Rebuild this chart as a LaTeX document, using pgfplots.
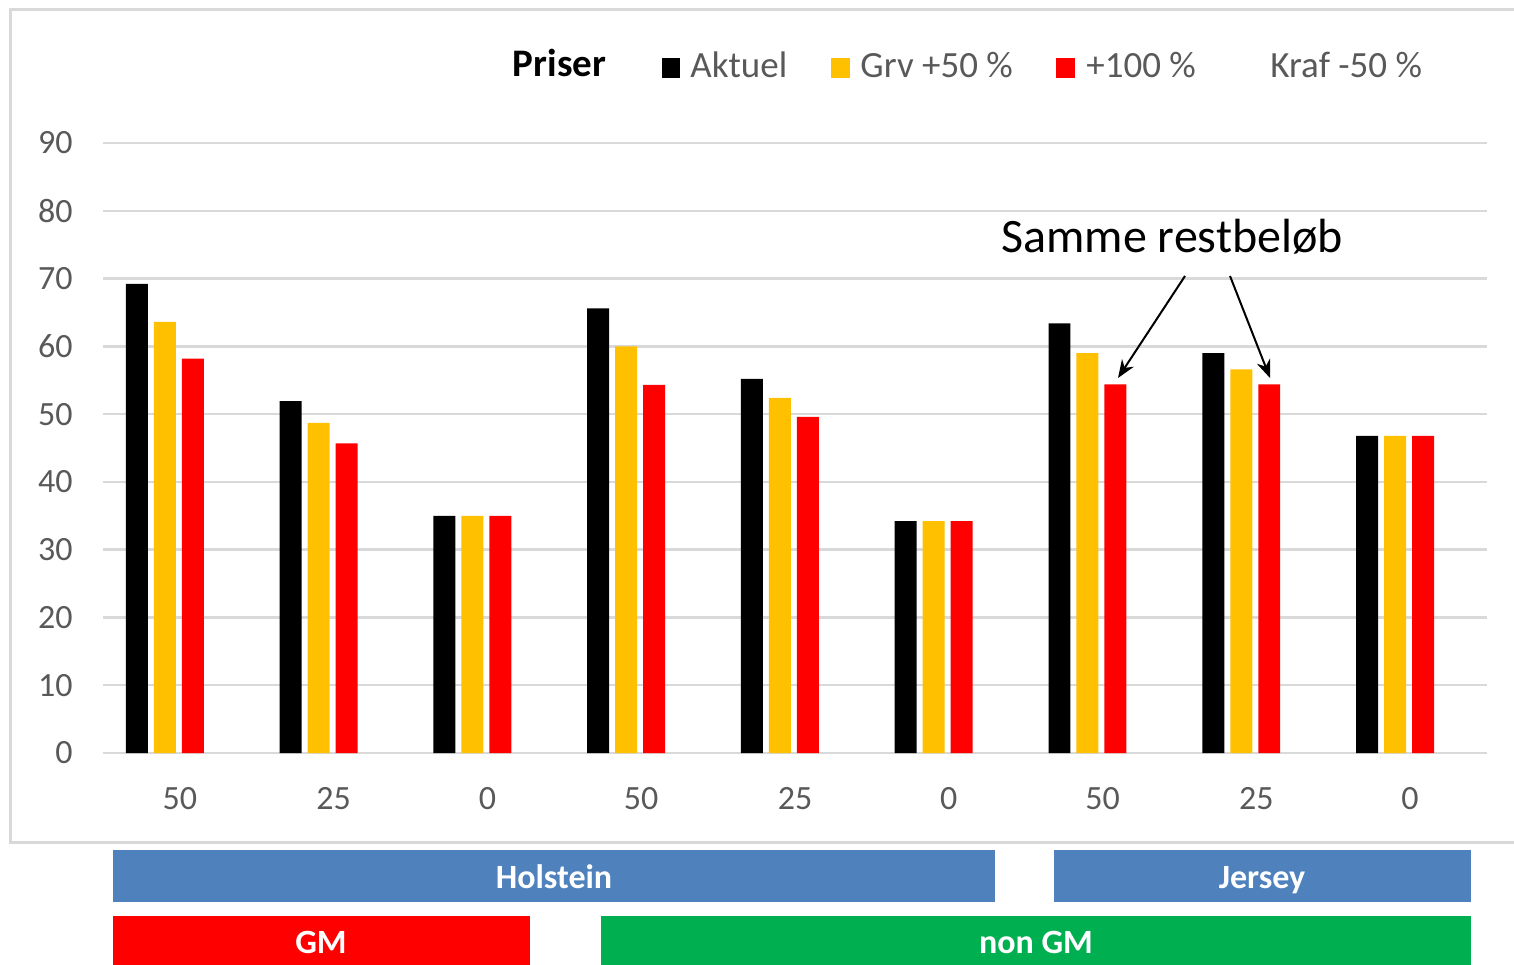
\documentclass[border=0pt]{standalone}
\usepackage{fontspec}
\setmainfont{Carlito}
\usepackage{pgfplots}
\pgfplotsset{compat=1.18}
\usetikzlibrary{arrows.meta}
\definecolor{cyellow}{HTML}{FFC000}
\definecolor{cred}{HTML}{FF0000}
\definecolor{cblue}{HTML}{4F81BD}
\definecolor{cgreen}{HTML}{00B050}
\definecolor{cgrid}{HTML}{D9D9D9}
\definecolor{ctext}{HTML}{595959}
\newcommand\PX[2]{({(#1)*0.5pt},{(964-(#2))*0.5pt})}
\begin{document}
\begin{tikzpicture}
\useasboundingbox (0,0) rectangle (757pt,482pt);
\draw[cgrid, line width=1.5pt] \PX{1530}{10} -- \PX{10}{10} -- \PX{10}{842} -- \PX{1530}{842};
\begin{axis}[
 at={(51.5pt,105.5pt)}, anchor=south west,
 scale only axis, width=692pt, height=305pt,
 xmin=-0.5, xmax=8.5, ymin=0, ymax=90,
 ytick={0,10,...,90},
 xtick={0,...,8},
 xticklabels={50,25,0,50,25,0,50,25,0},
 ymajorgrids, grid style={cgrid, line width=1.2pt},
 axis line style={draw=none},
 major tick length=0pt,
 tick style={draw=none},
 ybar, bar width=0.143,
 ticklabel style={font=\fontsize{17}{20}\selectfont, text=ctext, inner sep=0pt},
 /pgf/number format/assume math mode=true,
 xticklabel style={anchor=base, yshift=-28pt},
 yticklabel style={anchor=east, xshift=-15pt},
 clip=false,
]
\addplot[draw=none, fill=black, bar shift=-0.28] coordinates {(0,69.2) (1,51.9) (2,35.0) (3,65.6) (4,55.2) (5,34.2) (6,63.4) (7,59.0) (8,46.8)};
\addplot[draw=none, fill=cyellow, bar shift=-0.098] coordinates {(0,63.6) (1,48.7) (2,35.0) (3,60.0) (4,52.4) (5,34.2) (6,59.0) (7,56.6) (8,46.8)};
\addplot[draw=none, fill=cred, bar shift=0.084] coordinates {(0,58.2) (1,45.7) (2,35.0) (3,54.3) (4,49.6) (5,34.2) (6,54.4) (7,54.4) (8,46.8)};
\end{axis}
% legend
\node[anchor=base, font=\bfseries\fontsize{19.5}{22}\selectfont, inner sep=0pt] at \PX{559.5}{77} {Priser};
\fill[black] \PX{662}{58} rectangle \PX{680}{78};
\node[anchor=base west, text=ctext, font=\fontsize{18.5}{22}\selectfont, inner sep=0pt] at \PX{690}{78} {Aktuel};
\fill[cyellow] \PX{831}{58} rectangle \PX{850}{78};
\node[anchor=base west, text=ctext, font=\fontsize{18.5}{22}\selectfont, inner sep=0pt] at \PX{860}{78} {Grv +50 \%};
\fill[cred] \PX{1056}{58} rectangle \PX{1075}{78};
\node[anchor=base west, text=ctext, font=\fontsize{18.5}{22}\selectfont, inner sep=0pt] at \PX{1086}{78} {+100 \%};
\node[anchor=base west, text=ctext, font=\fontsize{18.5}{22}\selectfont, inner sep=0pt] at \PX{1270}{78} {Kraf -50 \%};
% annotation
\node[anchor=base west, font=\fontsize{24}{28}\selectfont, inner sep=0pt] at \PX{1001}{253} {Samme restbeløb};
\draw[line width=1pt, -{Stealth[length=9pt, width=7pt]}] \PX{1185}{276} -- \PX{1118}{378};
\draw[line width=1pt, -{Stealth[length=9pt, width=7pt]}] \PX{1230}{276} -- \PX{1270}{378};
% category boxes
\fill[cblue] \PX{113}{850} rectangle \PX{995}{902};
\node[anchor=base, inner sep=0pt, text=white, font=\bfseries\fontsize{17}{20}\selectfont] at \PX{554}{888} {Holstein};
\fill[cblue] \PX{1054}{850} rectangle \PX{1471}{902};
\node[anchor=base, inner sep=0pt, text=white, font=\bfseries\fontsize{17}{20}\selectfont] at \PX{1262}{888} {Jersey};
\fill[cred] \PX{113}{916} rectangle \PX{530}{970};
\node[anchor=base, inner sep=0pt, text=white, font=\bfseries\fontsize{17}{20}\selectfont] at \PX{321}{953} {GM};
\fill[cgreen] \PX{601}{916} rectangle \PX{1471}{970};
\node[anchor=base, inner sep=0pt, text=white, font=\bfseries\fontsize{17}{20}\selectfont] at \PX{1036}{953} {non GM};
\end{tikzpicture}
\end{document}
